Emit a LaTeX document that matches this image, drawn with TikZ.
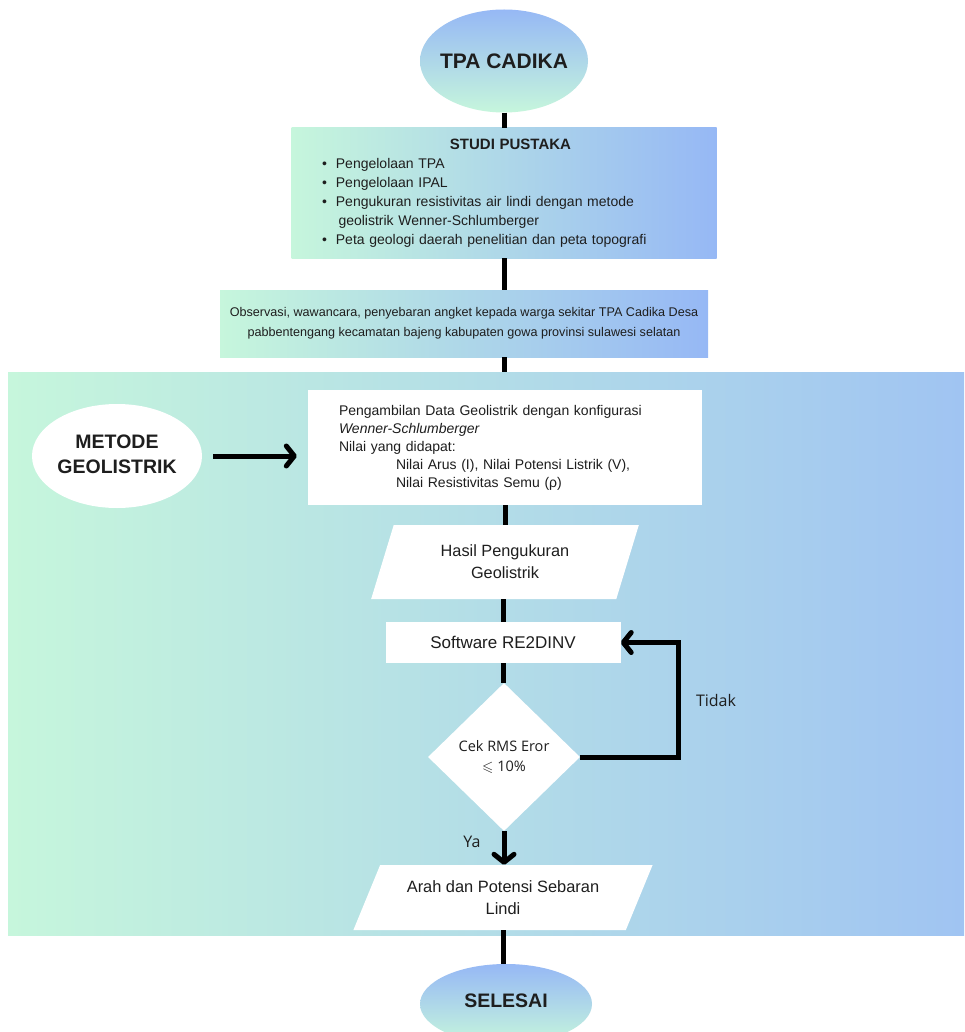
\documentclass[tikz,border=0pt]{standalone}
\usepackage{amssymb}
\usepackage{fontspec}
\setmainfont{Liberation Sans}
\newfontfamily\opensans{Open Sans}
\usetikzlibrary{shapes.geometric,arrows.meta}

\definecolor{hijau}{RGB}{198,246,220}
\definecolor{biru}{RGB}{150,184,245}
\definecolor{birumuda}{RGB}{160,196,242}
\definecolor{teks}{RGB}{30,30,30}

\begin{document}
\begin{tikzpicture}[ x = 1pt, y = -1pt,
		kotak/.style = { rectangle, inner sep = 0pt, text = teks },
		jajar/.style = { trapezium, trapezium stretches = true, fill = white, inner sep = 0pt, text = teks, align = center },
		garis/.style = { line width = 5pt, black },
		panah/.style = { garis, -{Straight Barb[ length = 8pt, width = 20pt, round ]} } ]
		\useasboundingbox [ fill = white ] ( 0, 0 ) rectangle ( 964, 1032 );

		% latar bagian geolistrik
		\fill [ left color = hijau, right color = birumuda ] ( 8, 372 ) rectangle ( 964, 935 );
		\coordinate (atas) at ( 504, 372 );

		% mulai
		\node (tpa) [ ellipse, minimum width = 168pt, minimum height = 103pt, inner sep = 0pt, top color = biru, bottom color = hijau, text = teks, font = \bfseries\fontsize{21}{25}\selectfont ] at ( 504, 61 ) {\makebox[0pt]{TPA CADIKA}};

		% studi pustaka
		\node (studi) [ kotak, left color = hijau, right color = biru, minimum width = 425pt, minimum height = 130pt, text width = 376pt, inner xsep = 24.5pt, align = left, font = \fontsize{14}{19}\selectfont ] at ( 504, 193 ) {%
			\centering\hspace*{13pt}{\bfseries\fontsize{15}{19}\selectfont STUDI PUSTAKA}\\
			\raggedright
			\hspace*{6pt}\textbullet\hspace{9pt}Pengelolaan TPA\\
			\hspace*{6pt}\textbullet\hspace{9pt}Pengelolaan IPAL\\
			\hspace*{6pt}\textbullet\hspace{9pt}Pengukuran resistivitas air lindi dengan metode\\
			\hspace*{22.5pt}geolistrik Wenner-Schlumberger\\
			\hspace*{6pt}\textbullet\hspace{9pt}Peta geologi daerah penelitian dan peta topografi\\[6pt]};

		% observasi
		\node (obs) [ kotak, left color = hijau, right color = biru, minimum width = 488pt, minimum height = 67pt, align = center, font = \fontsize{12.6}{20}\selectfont ] at ( 464, 323.5 ) {Observasi, wawancara, penyebaran angket kepada warga sekitar TPA Cadika Desa\\pabbentengang kecamatan bajeng kabupaten gowa provinsi sulawesi selatan};

		% metode geolistrik
		\node (metode) [ ellipse, fill = white, minimum width = 170pt, minimum height = 104pt, inner sep = 0pt, text = teks, font = \bfseries\fontsize{19.5}{25}\selectfont ] at ( 117, 456 ) {\makebox[0pt]{\begin{tabular}{@{}c@{}}METODE\\GEOLISTRIK\end{tabular}}};
		\node (ambil) [ kotak, fill = white, minimum width = 394pt, minimum height = 115pt, text width = 332pt, inner xsep = 31pt, align = left, font = \fontsize{14}{18}\selectfont ] at ( 505, 447.5 ) {%
			Pengambilan Data Geolistrik dengan konfigurasi\\
			\textit{Wenner-Schlumberger}\\
			Nilai yang didapat:\\
			\hspace*{57pt}Nilai Arus (I), Nilai Potensi Listrik (V),\\
			\hspace*{57pt}Nilai Resistivitas Semu (ρ)};

		% hasil dan software
		\node (hasil) [ jajar, trapezium left angle = 69, trapezium right angle = 111, minimum width = 268pt, minimum height = 74pt, font = \fontsize{16.3}{22}\selectfont ] at ( 505, 562 ) {Hasil Pengukuran\\Geolistrik};
		\node (soft) [ kotak, fill = white, minimum width = 235pt, minimum height = 41pt, font = \fontsize{17}{20}\selectfont ] at ( 503, 642.5 ) {Software RE2DINV};

		% cek rms
		\node (cek) [ diamond, fill = white, minimum width = 152pt, minimum height = 148pt, inner sep = 0pt, align = center, text = teks, font = \opensans\fontsize{14.5}{20}\selectfont ] at ( 504, 757 ) {Cek RMS Eror\\$\leqslant$ 10\%};
		\node (tidak) [ text = teks, font = \opensans\fontsize{16}{20}\selectfont ] at ( 716, 700 ) {Tidak};
		\node (ya) [ text = teks, font = \opensans\fontsize{16}{20}\selectfont ] at ( 472, 842 ) {Ya};

		% arah dan selesai
		\node (arah) [ jajar, trapezium left angle = 58.4, trapezium right angle = 121.6, minimum width = 300pt, minimum height = 65pt, font = \fontsize{16.4}{22}\selectfont ] at ( 503, 897.5 ) {Arah dan Potensi Sebaran\\Lindi};
		\node (selesai) [ ellipse, minimum width = 172pt, minimum height = 80pt, inner sep = 0pt, top color = biru, bottom color = hijau, text = teks, font = \bfseries\fontsize{19.5}{24}\selectfont ] at ( 506, 1004 ) {\makebox[0pt]{\raisebox{7pt}{SELESAI}}};

		% garis penghubung
		\draw [ garis ] (tpa.south) -- (studi.north);
		\draw [ garis ] (studi.south) -- (studi.south |- obs.north);
		\draw [ garis ] (obs.south -| atas) -- (atas);
		\draw [ panah, shorten < = 11pt, shorten > = 11pt ] (metode.east) -- (metode.east -| ambil.west);
		\draw [ garis ] (ambil.south) -- (ambil.south |- hasil.north);
		\draw [ garis ] (hasil.south -| soft.north) -- (soft.north);
		\draw [ garis ] (soft.south) -- (soft.south |- cek.north);
		\draw [ panah ] (cek.south) -- (cek.south |- arah.north);
		\draw [ panah ] (cek.east) -- ++ ( 98, 0 ) |- (soft.east);
		\draw [ garis ] (arah.south) -- (arah.south |- selesai.north);
	\end{tikzpicture}
\end{document}
